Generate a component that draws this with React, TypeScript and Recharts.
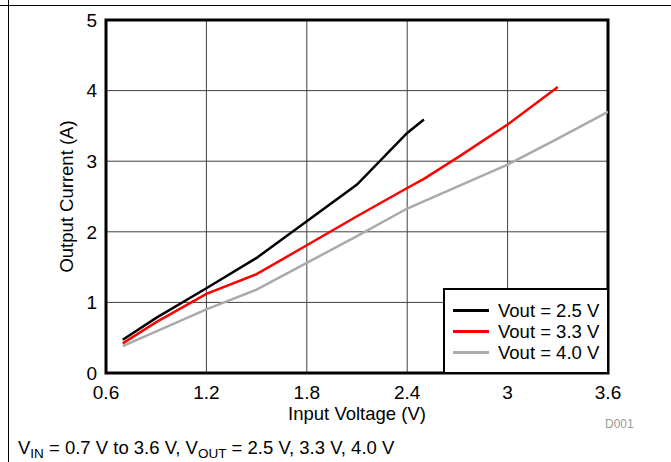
import { LineChart, Line, XAxis, YAxis, CartesianGrid, Legend, ReferenceArea } from 'recharts'

// input voltage (V) -> output current (A)
const vout25 = [
  { v: 0.7, i: 0.47 },
  { v: 0.9, i: 0.78 },
  { v: 1.2, i: 1.2 },
  { v: 1.5, i: 1.63 },
  { v: 1.8, i: 2.15 },
  { v: 2.1, i: 2.67 },
  { v: 2.4, i: 3.4 },
  { v: 2.5, i: 3.59 },
]

const vout33 = [
  { v: 0.7, i: 0.42 },
  { v: 0.9, i: 0.72 },
  { v: 1.2, i: 1.12 },
  { v: 1.5, i: 1.4 },
  { v: 1.8, i: 1.81 },
  { v: 2.1, i: 2.22 },
  { v: 2.4, i: 2.62 },
  { v: 2.5, i: 2.75 },
  { v: 2.7, i: 3.05 },
  { v: 3.0, i: 3.52 },
  { v: 3.3, i: 4.05 },
]

const vout40 = [
  { v: 0.7, i: 0.38 },
  { v: 1.2, i: 0.9 },
  { v: 1.5, i: 1.18 },
  { v: 1.8, i: 1.56 },
  { v: 2.1, i: 1.94 },
  { v: 2.4, i: 2.33 },
  { v: 2.7, i: 2.64 },
  { v: 3.0, i: 2.95 },
  { v: 3.3, i: 3.32 },
  { v: 3.6, i: 3.7 },
]

const xTicks = [0.6, 1.2, 1.8, 2.4, 3, 3.6]
const yTicks = [0, 1, 2, 3, 4, 5]

const series = [
  { name: 'Vout = 2.5 V', data: vout25, color: '#000000' },
  { name: 'Vout = 3.3 V', data: vout33, color: '#ff0000' },
  { name: 'Vout = 4.0 V', data: vout40, color: '#aaaaaa' },
]

const font = '"Liberation Sans", Arial, sans-serif'
const tickStyle = { fill: '#000', fontSize: 19, fontFamily: font }

function LegendBox() {
  return (
    <div
      style={{
        boxSizing: 'border-box',
        width: 166,
        height: 86,
        border: '2px solid #000',
        background: '#fff',
        paddingTop: 10,
        fontFamily: font,
        fontSize: 18.5,
        color: '#000',
      }}
    >
      {series.map((s) => (
        <div key={s.name} style={{ height: 21, display: 'flex', alignItems: 'center' }}>
          <span style={{ display: 'inline-block', width: 36, height: 2.5, background: s.color, marginLeft: 8, marginRight: 9 }} />
          <span style={{ lineHeight: '21px', whiteSpace: 'nowrap' }}>{s.name}</span>
        </div>
      ))}
    </div>
  )
}

export default function App() {
  return (
    <div style={{ position: 'absolute', left: 0, top: 0, width: 671, height: 462, background: '#fff', overflow: 'hidden' }}>
      <div style={{ position: 'absolute', left: 0, top: 5, width: 671, height: 1, background: '#000' }} />
      <div style={{ position: 'absolute', left: 8, top: 0, width: 1, height: 462, background: '#000' }} />
      <LineChart
        width={671}
        height={462}
        margin={{ top: 20, right: 63, left: 26, bottom: 9 }}
        style={{ position: 'absolute', left: 0, top: 0 }}
      >
        <CartesianGrid stroke="#404040" strokeWidth={1} />
        <XAxis
          type="number"
          dataKey="v"
          domain={[0.6, 3.6]}
          ticks={xTicks}
          allowDataOverflow
          height={80}
          tickSize={0}
          tickMargin={13}
          tickLine={false}
          axisLine={false}
          tick={tickStyle}
          label={{ value: 'Input Voltage (V)', position: 'center', fill: '#000', fontSize: 18.5, fontFamily: font }}
        />
        <YAxis
          type="number"
          domain={[0, 5]}
          ticks={yTicks}
          allowDataOverflow
          width={80}
          tickSize={0}
          tickMargin={9}
          tickLine={false}
          axisLine={false}
          tick={tickStyle}
          label={{ value: 'Output Current (A)', position: 'center', angle: -90, fill: '#000', fontSize: 18.5, fontFamily: font }}
        />
        <ReferenceArea x1={0.6} x2={3.6} y1={0} y2={5} fill="none" stroke="#000" strokeWidth={3} ifOverflow="visible" />
        {series.map((s) => (
          <Line
            key={s.name}
            data={s.data}
            dataKey="i"
            name={s.name}
            stroke={s.color}
            strokeWidth={2.5}
            dot={false}
            type="linear"
            isAnimationActive={false}
          />
        ))}
        <Legend
          layout="vertical"
          align="center"
          verticalAlign="middle"
          content={() => <LegendBox />}
          wrapperStyle={{ left: 443, top: 288, width: 166, height: 86 }}
        />
      </LineChart>
      <div style={{ position: 'absolute', left: 18, top: 417, fontFamily: font, fontSize: 12, color: '#999' }} />
      <div style={{ position: 'absolute', left: 605, top: 417, fontFamily: font, fontSize: 12, color: '#999' }}>D001</div>
      <div style={{ position: 'absolute', left: 18, top: 438, fontFamily: font, fontSize: 18.5, lineHeight: '19px', color: '#000', whiteSpace: 'nowrap' }}>
        V<span style={{ fontSize: 13.5, position: 'relative', top: 4 }}>IN</span> = 0.7 V to 3.6 V, V
        <span style={{ fontSize: 13.5, position: 'relative', top: 4 }}>OUT</span> = 2.5 V, 3.3 V, 4.0 V
      </div>
    </div>
  )
}
